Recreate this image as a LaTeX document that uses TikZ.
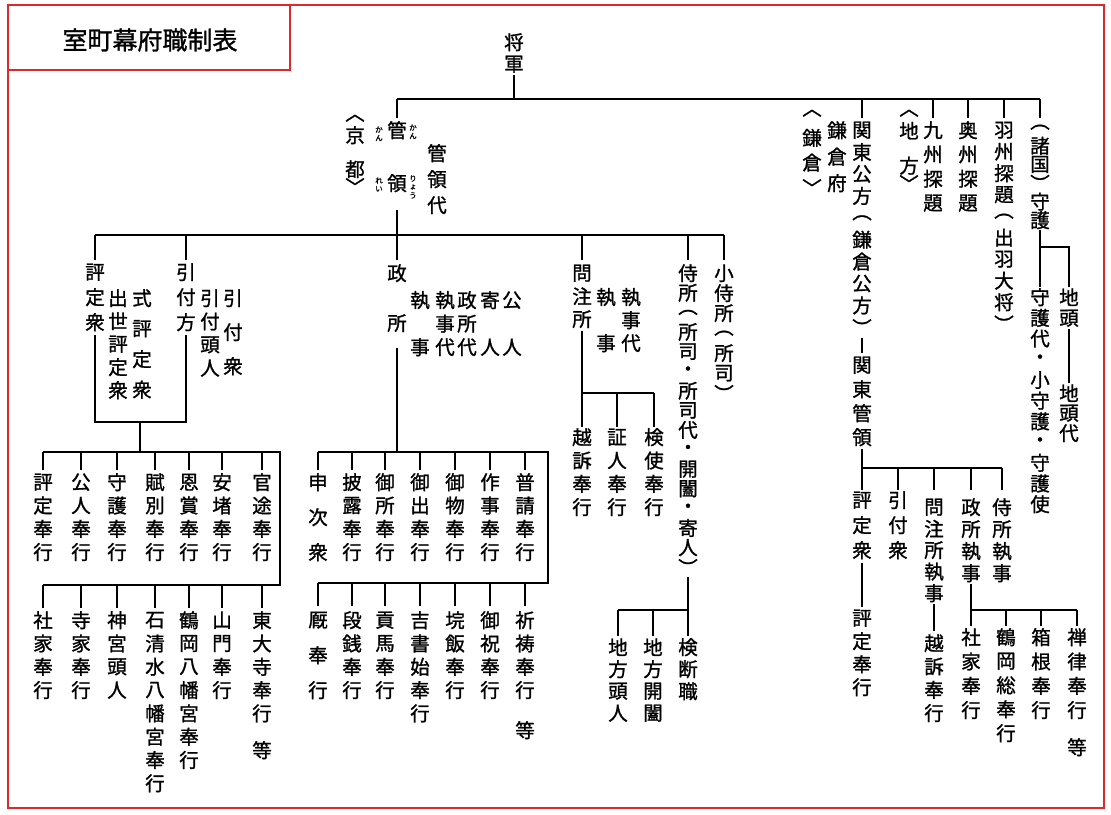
\documentclass[tikz,border=0pt]{standalone}
\usepackage{fontspec}
\newfontfamily\cjk[FakeBold=1.2]{Noto Sans CJK JP}
\definecolor{frame}{RGB}{222,40,45}
\newlength\vp
\def\Vend{\Vend}
\def\Vchar#1{\ifx*#1\phantom{国}\else#1\fi}
\def\Vloop#1{\ifx\Vend#1\else\hbox to 1.1em{\hss\vbox to\vp{\vss\hbox{\Vchar{#1}}\vss}\hss}\expandafter\Vloop\fi}
\newcommand\V[2][22pt]{\setlength\vp{#1}\vbox{\offinterlineskip\Vloop#2\Vend}}
\tikzset{
 vt/.style={inner sep=0pt, anchor=north, font=\cjk\fontsize{19.5}{19.5}\selectfont},
 rb/.style={inner sep=0pt, anchor=north, font=\cjk\fontsize{7.5}{7.5}\selectfont},
 ln/.style={line width=1.2pt, black},
 fr/.style={line width=1.6pt, frame}
}
\newcommand\VN[5]{\node[vt] (#1) at (#2,#3-#4/2) {\V[#4pt]{#5}};}
\begin{document}
\begin{tikzpicture}[x=1pt,y=-1pt]
\useasboundingbox (0,0) rectangle (1111,814);
\draw[fr] (8,5) rectangle (1104,808);
\draw[fr] (8,5) rectangle (290,70);
\node[font=\cjk\fontsize{25}{25}\selectfont, inner sep=0] (title) at (150,40) {室町幕府職制表};

\VN{shogun}{514}{42}{22}{将軍}
\VN{kanrei}{397}{130}{53}{管領}
\node[rb] (r1) at (379,125) {\V[8.5pt]{かん}};
\node[rb] (r2) at (379,176) {\V[8.5pt]{れい}};
\node[rb] (r3) at (413,123) {\V[8.5pt]{かん}};
\node[rb] (r4) at (413,174) {\V[8.5pt]{りょう}};
\VN{kyoto}{355}{118}{17}{︿京*都﹀}
\VN{kanreidai}{437}{153}{26}{管領代}
\VN{kamakura}{812}{113}{24.7}{︿鎌倉﹀}
\VN{kamakurafu}{837}{130}{26.5}{鎌倉府}
\VN{kubo}{862}{130}{21.9}{関東公方︵鎌倉公方︶}
\VN{kantokanrei}{862}{365}{24}{関東管領}
\VN{chiho}{909}{113}{17.5}{︿地*方﹀}
\VN{kyushu}{933}{130}{24.3}{九州探題}
\VN{oshu}{968}{130}{24.3}{奥州探題}
\VN{ushu}{1004}{130}{21.5}{羽州探題︵出羽大将︶}
\VN{shugo}{1040}{127}{18.6}{︵諸国︶守護}
\VN{shugodai}{1040}{297}{20.7}{守護代・小守護・守護使}
\VN{jito}{1069}{297}{21}{地頭}
\VN{jitodai}{1069}{393}{20}{地頭代}

\draw[ln] (shogun.south) -- (514,99);
\draw[ln] (397,99) -- (1040,99);
\foreach \x in {397,862,933,968,1004,1040} \draw[ln] (\x,99) -- (\x,118);
\draw[ln] (shugo.south) -- (shugodai.north);
\draw[ln] (1040,247) -| (jito.north);
\draw[ln] (jito.south) -- (jitodai.north);
\draw[ln] (kubo.south) -- (kantokanrei.north);

\draw[ln] (kanrei.south) -- (397,260);
\draw[ln] (95,235) -- (724,235);
\foreach \x in {95,186,582,688,724} \draw[ln] (\x,235) -- (\x,260);
\VN{hyojoshu}{95}{272}{25}{評定衆}
\VN{shusse}{118}{298}{23}{出世評定衆}
\VN{shiki}{142}{298}{30.5}{式評定衆}
\VN{hikikata}{186}{272}{25}{引付方}
\VN{hikitonin}{210}{298}{23.3}{引付頭人}
\VN{hikishu}{233}{298}{34}{引付衆}
\VN{mandokoro}{397}{273}{50}{政所}
\VN{shitsuji}{420}{300}{23.5}{執*事}
\VN{shitsujidai}{445}{300}{23.5}{執事代}
\VN{mdai}{467}{300}{23.5}{政所代}
\VN{yoriudo}{490}{300}{23.5}{寄*人}
\VN{kunin}{512}{300}{23.5}{公*人}
\VN{monchujo}{582}{273}{23}{問注所}
\VN{mshitsuji}{606}{297}{23}{執*事}
\VN{mshitsujidai}{631}{297}{23}{執事代}
\VN{samurai}{688}{273}{19.6}{侍所︵所司・所司代・開闔・寄人︶}
\VN{kosamurai}{724}{273}{20}{小侍所︵所司︶}

\draw[ln] (hyojoshu.south) -- (95,422) -- (186,422) -- (hikikata.south);
\draw[ln] (140,422) -- (140,452);
\draw[ln] (43,452) -- (280,452) -- (280,585) -- (43,585);
\foreach \x in {43,81,117,155,189,222,262} {\draw[ln] (\x,452) -- (\x,470); \draw[ln] (\x,585) -- (\x,608);}
\VN{a1}{43}{482}{23.3}{評定奉行}
\VN{a2}{81}{482}{23.3}{公人奉行}
\VN{a3}{117}{482}{23.3}{守護奉行}
\VN{a4}{155}{482}{23.3}{賦別奉行}
\VN{a5}{189}{482}{23.3}{恩賞奉行}
\VN{a6}{222}{482}{23.3}{安堵奉行}
\VN{a7}{262}{482}{23.3}{官途奉行}
\VN{b1}{43}{620}{23.3}{社家奉行}
\VN{b2}{81}{620}{23.3}{寺家奉行}
\VN{b3}{117}{620}{23.3}{神宮頭人}
\VN{b4}{155}{620}{23.3}{石清水八幡宮奉行}
\VN{b5}{189}{620}{23.3}{鶴岡八幡宮奉行}
\VN{b6}{222}{620}{23.3}{山門奉行}
\VN{b7}{262}{620}{23.3}{東大寺奉行}
\VN{b7e}{262}{750}{23.3}{等}
\draw[ln] (mandokoro.south) -- (397,452);
\draw[ln] (318,452) -- (548,452) -- (548,583) -- (318,583);
\foreach \x in {318,352,385,420,455,490,525} {\draw[ln] (\x,452) -- (\x,470); \draw[ln] (\x,583) -- (\x,606);}
\VN{c1}{318}{482}{35}{申次衆}
\VN{c2}{352}{482}{23.3}{披露奉行}
\VN{c3}{385}{482}{23.3}{御所奉行}
\VN{c4}{420}{482}{23.3}{御出奉行}
\VN{c5}{455}{482}{23.3}{御物奉行}
\VN{c6}{490}{482}{23.3}{作事奉行}
\VN{c7}{525}{482}{23.3}{普請奉行}
\VN{d1}{318}{620}{35}{厩奉行}
\VN{d2}{352}{620}{23.3}{段銭奉行}
\VN{d3}{385}{620}{23.3}{貢馬奉行}
\VN{d4}{420}{620}{23.3}{吉書始奉行}
\VN{d5}{455}{620}{23.3}{垸飯奉行}
\VN{d6}{490}{620}{23.3}{御祝奉行}
\VN{d7}{525}{620}{23.3}{祈祷奉行}
\VN{d7e}{525}{730}{23.3}{等}
\draw[ln] (monchujo.south) -- (582,427);
\draw[ln] (582,393) -- (654,393);
\foreach \x in {617,654} \draw[ln] (\x,393) -- (\x,427);
\VN{e1}{582}{437}{23.3}{越訴奉行}
\VN{e2}{617}{437}{23.3}{証人奉行}
\VN{e3}{654}{437}{23.3}{検使奉行}
\draw[ln] (samurai.south) -- (688,636);
\draw[ln] (618,610) -- (688,610);
\foreach \x in {618,653} \draw[ln] (\x,610) -- (\x,636);
\VN{f1}{618}{647}{22}{地方頭人}
\VN{f2}{653}{647}{22}{地方開闔}
\VN{f3}{688}{647}{22}{検断職}
\draw[ln] (kantokanrei.south) -- (862,490);
\draw[ln] (862,468) -- (1002,468);
\foreach \x in {898,934,971,1002} \draw[ln] (\x,468) -- (\x,490);
\VN{g1}{862}{500}{25}{評定衆}
\VN{g2}{898}{500}{25}{引付衆}
\VN{g3}{934}{507}{21.5}{問注所執事}
\VN{g4}{971}{507}{22}{政所執事}
\VN{g5}{1002}{507}{22}{侍所執事}
\VN{h1}{862}{618}{23}{評定奉行}
\draw[ln] (g1.south) -- (h1.north);
\VN{h2}{934}{643}{23.3}{越訴奉行}
\draw[ln] (g3.south) -- (h2.north);
\draw[ln] (g4.south) -- (971,626);
\draw[ln] (971,610) -- (1077,610);
\foreach \x in {1006,1041,1077} \draw[ln] (\x,610) -- (\x,626);
\VN{i1}{971}{637}{24.3}{社家奉行}
\VN{i2}{1006}{637}{24}{鶴岡総奉行}
\VN{i3}{1041}{637}{24.3}{箱根奉行}
\VN{i4}{1077}{637}{24.3}{禅律奉行}
\VN{i4e}{1077}{747}{24}{等}
\end{tikzpicture}
\end{document}
